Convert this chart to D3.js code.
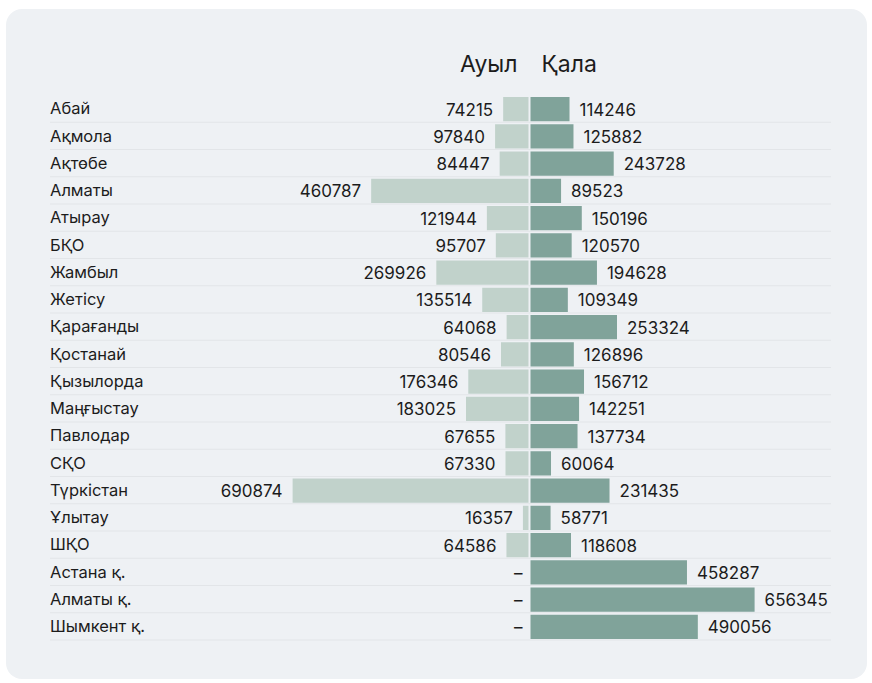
<!DOCTYPE html>
<html lang="kk">
<head>
<meta charset="UTF-8">
<title>Ауыл / Қала</title>
<style>
  body, html { margin: 0; padding: 0; background: #ffffff; }
  svg { display: block; font-family: Inter, "Noto Sans", sans-serif; }
  .cat { font-size: 16.5px; fill: #1c1c1c; }
  .val { font-size: 17px; fill: #1c1c1c; }
  .head { font-size: 23px; fill: #1c1c1c; }
  .sep { stroke: #e2e5e8; stroke-width: 1; }
</style>
</head>
<body>
<svg></svg>
<script src="https://d3js.org/d3.v7.min.js"></script>
<script>
  const regions = ['Абай', 'Ақмола', 'Ақтөбе', 'Алматы', 'Атырау', 'БҚО', 'Жамбыл', 'Жетісу',
    'Қарағанды', 'Қостанай', 'Қызылорда', 'Маңғыстау', 'Павлодар', 'СҚО', 'Түркістан',
    'Ұлытау', 'ШҚО', 'Астана қ.', 'Алматы қ.', 'Шымкент қ.'];
  const rural = [74215, 97840, 84447, 460787, 121944, 95707, 269926, 135514, 64068, 80546,
    176346, 183025, 67655, 67330, 690874, 16357, 64586, null, null, null];
  const urban = [114246, 125882, 243728, 89523, 150196, 120570, 194628, 109349, 253324, 126896,
    156712, 142251, 137734, 60064, 231435, 58771, 118608, 458287, 656345, 490056];
  const headers = ['Ауыл', 'Қала'];

  const width = 872, height = 683;
  const svg = d3.select('svg').attr('width', width).attr('height', height);

  // card
  svg.append('rect')
    .attr('x', 6).attr('y', 9)
    .attr('width', 861).attr('height', 670)
    .attr('rx', 16)
    .attr('fill', '#eef1f4');

  const rows = regions.map((r, i) => ({ name: r, rural: rural[i], urban: urban[i] }));

  const y = d3.scaleBand()
    .domain(regions)
    .range([95.5, 95.5 + 27.25 * regions.length]);

  const center = 529.5;
  const maxV = 700000;
  const xR = d3.scaleLinear().domain([0, maxV]).range([center + 1, center + 1 + 239]);
  const xL = d3.scaleLinear().domain([0, maxV]).range([center - 1, center - 1 - 239]);

  // headers
  svg.append('text').attr('class', 'head')
    .attr('x', center - 12).attr('y', 72)
    .attr('text-anchor', 'end').text(headers[0]);
  svg.append('text').attr('class', 'head')
    .attr('x', center + 12).attr('y', 72)
    .attr('text-anchor', 'start').text(headers[1]);

  const g = svg.selectAll('.row')
    .data(rows)
    .enter().append('g')
    .attr('class', 'row')
    .attr('transform', d => `translate(0,${y(d.name)})`);

  const bw = y.bandwidth();

  g.append('line').attr('class', 'sep')
    .attr('x1', 50).attr('x2', 831)
    .attr('y1', bw - 0.5).attr('y2', bw - 0.5);

  g.append('text').attr('class', 'cat')
    .attr('x', 50).attr('y', bw / 2 - 0.5)
    .attr('dy', '0.35em')
    .text(d => d.name);

  g.filter(d => d.rural != null).append('rect')
    .attr('x', d => xL(d.rural))
    .attr('width', d => xL(0) - xL(d.rural))
    .attr('y', 1.5).attr('height', bw - 3)
    .attr('fill', '#c1d2cb');

  g.append('rect')
    .attr('x', xR(0))
    .attr('width', d => xR(d.urban) - xR(0))
    .attr('y', 1.5).attr('height', bw - 3)
    .attr('fill', '#80a39a');

  g.append('text').attr('class', 'val')
    .attr('x', d => d.rural != null ? xL(d.rural) - 10 : xL(0) - 6)
    .attr('y', bw / 2 + 0.5)
    .attr('dy', '0.35em')
    .attr('text-anchor', 'end')
    .text(d => d.rural != null ? d.rural : '–');

  g.append('text').attr('class', 'val')
    .attr('x', d => xR(d.urban) + 10)
    .attr('y', bw / 2 + 0.5)
    .attr('dy', '0.35em')
    .text(d => d.urban);
</script>
</body>
</html>
